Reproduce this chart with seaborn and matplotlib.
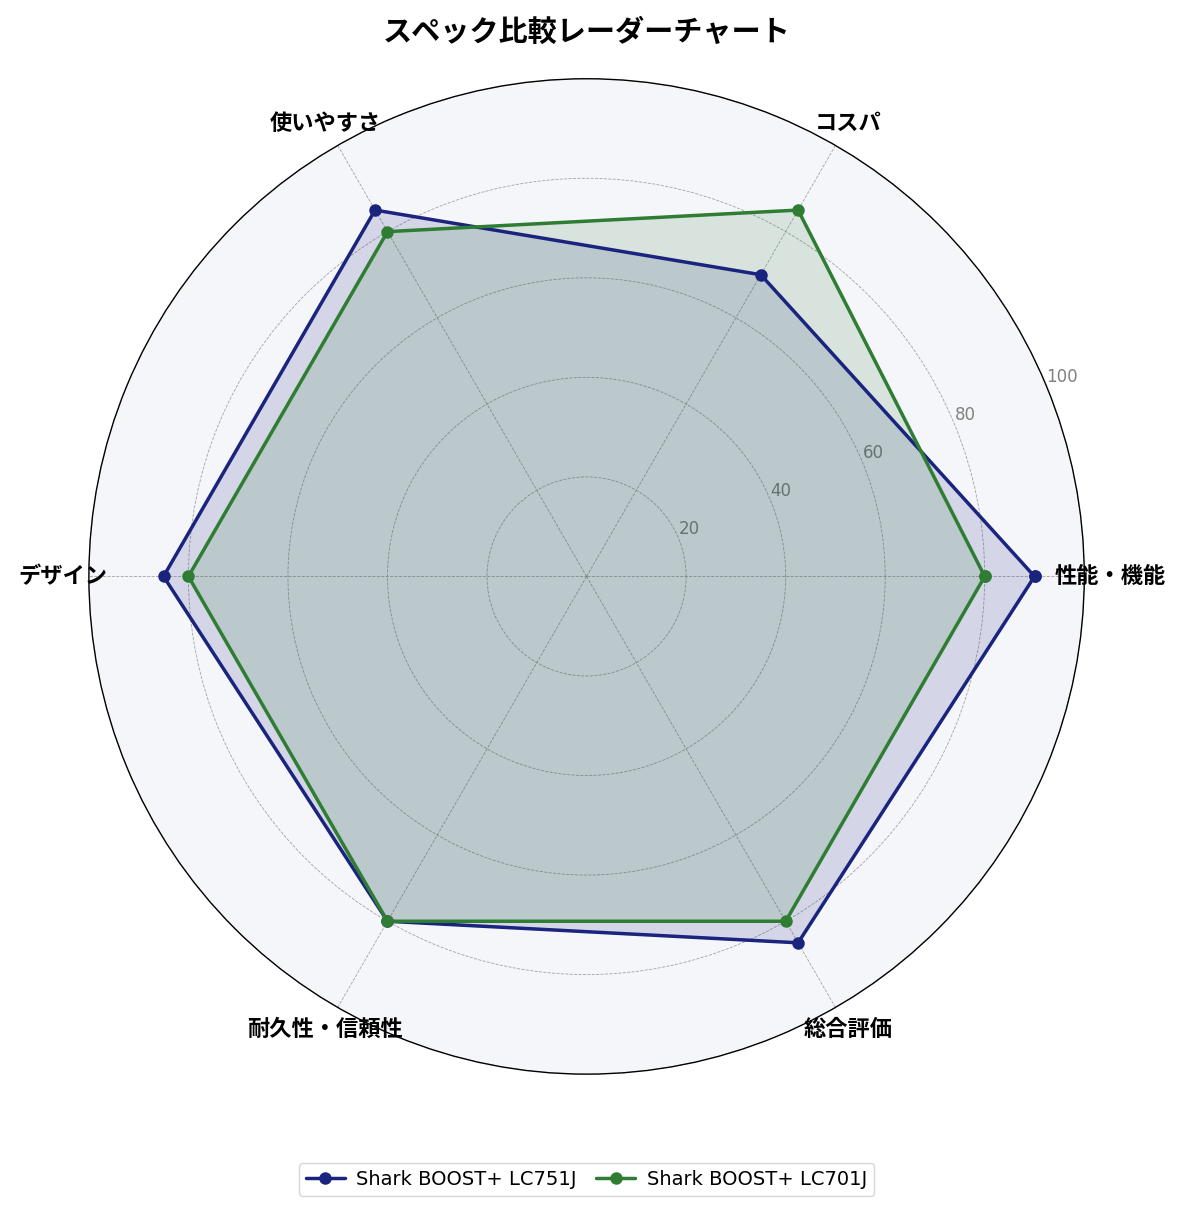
import numpy as np
import matplotlib
matplotlib.use("Agg")
import matplotlib.pyplot as plt
import seaborn as sns

# data
categories = ['性能・機能', 'コスパ', '使いやすさ', 'デザイン', '耐久性・信頼性', '総合評価']
lc751j = [90, 70, 85, 85, 80, 85]
lc701j = [80, 85, 80, 80, 80, 80]
series_names = ['Shark BOOST+ LC751J', 'Shark BOOST+ LC701J']
colors = ['#1a237e', '#2e7d32']
rticks = [20, 40, 60, 80, 100]

sns.set_style("white")
plt.rcParams['font.family'] = ['Noto Sans CJK JP', 'DejaVu Sans']
plt.rcParams['text.color'] = 'black'
plt.rcParams['axes.labelcolor'] = 'black'
plt.rcParams['xtick.color'] = 'black'

angles = np.linspace(0, 2 * np.pi, len(categories), endpoint=False).tolist()
angles_c = angles + [2 * np.pi]

fig = plt.figure(figsize=(11.85, 12.11), dpi=100)
ax = fig.add_axes([0.075, 0.104, 0.84, 0.84], projection='polar')
ax.set_facecolor('#f5f6fa')

for vals, name, c in zip([lc751j, lc701j], series_names, colors):
    v = vals + vals[:1]
    sns.lineplot(x=angles_c, y=v, ax=ax, color=c, linewidth=2.5, marker='o',
                 markersize=9, markeredgewidth=0, label=name, sort=False,
                 estimator=None)
    ax.fill(angles_c, v, color=c, alpha=0.15)

ax.set_ylim(0, 100)
ax.set_yticks(rticks)
ax.set_yticklabels([str(t) for t in rticks], color='gray', fontsize=12,
                   family=['DejaVu Sans'])
ax.set_rlabel_position(22.5)
ax.set_xticks(angles)
ax.set_xticklabels(categories, fontsize=16, fontweight='bold', color='black')
ax.tick_params(axis='x', pad=8)
ax.grid(True, color='gray', linestyle='--', linewidth=0.6, alpha=0.7)
ax.spines['polar'].set_color('black')
ax.spines['polar'].set_linewidth(1.0)
ax.set_xlabel('')
ax.set_ylabel('')

ax.set_title('スペック比較レーダーチャート', fontsize=21, fontweight='bold', pad=27,
             color='black')
leg = ax.legend(loc='upper center', bbox_to_anchor=(0.5, -0.08), ncol=2,
                prop={'family': 'DejaVu Sans', 'size': 14},
                frameon=True, fancybox=True, edgecolor='#cccccc', columnspacing=1.0,
                handlelength=2.0, handletextpad=0.6, borderpad=0.35)
for t in leg.get_texts():
    t.set_color('black')

fig.savefig('out.png', dpi=100)
